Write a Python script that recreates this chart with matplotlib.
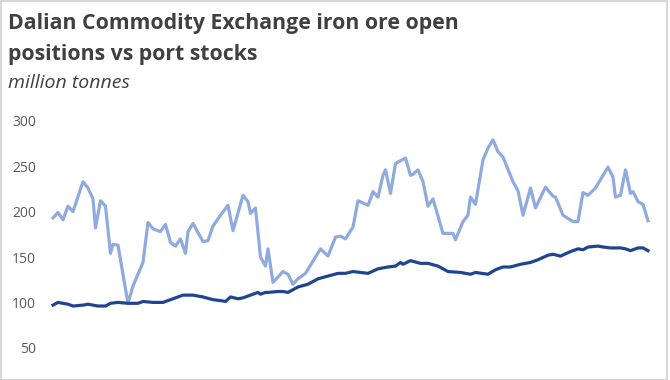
import matplotlib
matplotlib.use("Agg")
import matplotlib.pyplot as plt
from matplotlib.patches import Rectangle

# Open positions (light line): week index and value, million tonnes
open_weeks = [0, 2, 4, 6, 8, 12, 14, 16, 17, 19, 21, 23, 24, 26, 30, 32, 36, 38, 40, 43,
              45, 47, 49, 51, 53, 54, 56, 60, 62, 64, 67, 70, 72, 76, 78, 79, 81, 83, 85, 86,
              88, 92, 94, 96, 98, 101, 107, 110, 113, 115, 117, 120, 122, 126, 127, 128, 130, 132, 133, 135,
              137, 139, 141, 143, 144, 146, 148, 150, 152, 156, 158, 160, 161, 164, 166, 167, 169, 172, 174, 176,
              178, 180, 184, 186, 188, 191, 193, 197, 200, 201, 204, 208, 210, 212, 214, 217, 222, 224, 225, 227,
              229, 231, 232, 234, 236, 238]
open_positions = [193, 199, 191, 206, 200, 233, 226, 214, 182, 212, 206, 154, 164, 163, 99, 118, 144, 188, 181, 178,
                  186, 166, 162, 170, 154, 178, 187, 167, 168, 184, 196, 207, 179, 218, 211, 198, 204, 150, 140, 159,
                  122, 134, 131, 120, 126, 132, 159, 151, 172, 173, 170, 183, 212, 207, 214, 222, 216, 240, 246, 220,
                  253, 256, 259, 240, 241, 246, 233, 206, 214, 176, 176, 176, 169, 189, 196, 216, 208, 257, 270, 279,
                  266, 260, 233, 223, 196, 226, 204, 227, 217, 216, 196, 189, 189, 221, 218, 226, 249, 238, 216, 218,
                  246, 220, 222, 211, 208, 190]

# Port stocks (dark line)
stock_weeks = [0, 2, 6, 8, 12, 14, 18, 21, 23, 26, 30, 34, 36, 40, 44, 48, 52, 56, 60, 64,
               67, 69, 71, 74, 76, 79, 82, 83, 85, 86, 90, 92, 94, 98, 102, 106, 110, 114, 117, 120,
               123, 126, 130, 134, 137, 139, 140, 143, 147, 150, 154, 158, 163, 167, 169, 174, 177, 180, 183, 187,
               191, 194, 198, 200, 203, 207, 210, 212, 214, 218, 220, 223, 225, 227, 229, 231, 234, 236, 238]
port_stocks = [97, 100, 98, 96, 97, 98, 96, 96, 99, 100, 99, 99, 101, 100, 100, 104, 108, 108, 106, 103,
               102, 101, 106, 104, 105, 108, 111, 109, 111, 111, 112, 112, 111, 117, 120, 126, 129, 132, 132, 134,
               133, 132, 137, 139, 140, 144, 142, 146, 143, 143, 140, 134, 133, 131, 133, 131, 136, 139, 139, 142,
               144, 147, 152, 153, 151, 156, 159, 158, 161, 162, 161, 160, 160, 160, 159, 157, 160, 160, 157]

y_ticks = [50, 100, 150, 200, 250, 300]

fig = plt.figure(figsize=(6.7, 3.8), dpi=100)
ax = fig.add_axes([0.0746, 0.037, 0.903, 0.645])

ax.plot(open_weeks, open_positions, color="#8FAADC", lw=2.3, solid_joinstyle="round")
ax.plot(stock_weeks, port_stocks, color="#1F4591", lw=2.3, solid_joinstyle="round")

ax.set_xlim(-1.2, 240.8)
ax.set_ylim(30, 300)
ax.set_yticks(y_ticks)
ax.set_xticks([])
ax.tick_params(axis="y", length=0, pad=10, labelsize=10, labelcolor="#595959")
for lbl in ax.get_yticklabels():
    lbl.set_fontfamily("Open Sans")
for s in ax.spines.values():
    s.set_visible(False)

# Titles
fig.text(8 / 670, 1 - 29 / 380, "Dalian Commodity Exchange iron ore open", fontsize=15.3,
         fontweight="bold", color="#404040", family="Open Sans", va="baseline", ha="left")
fig.text(8 / 670, 1 - 60 / 380, "positions vs port stocks", fontsize=15.3,
         fontweight="bold", color="#404040", family="Open Sans", va="baseline", ha="left")
fig.text(8 / 670, 1 - 88 / 380, "million tonnes", fontsize=14, style="italic",
         color="#404040", family="Open Sans", va="baseline", ha="left")

# thin frame around the picture
fig.patches.append(Rectangle((0.001, 0.001), 0.994, 0.997, transform=fig.transFigure,
                             fill=False, edgecolor="#d0d0d0", lw=1.2))

fig.savefig("out.png", dpi=100)
